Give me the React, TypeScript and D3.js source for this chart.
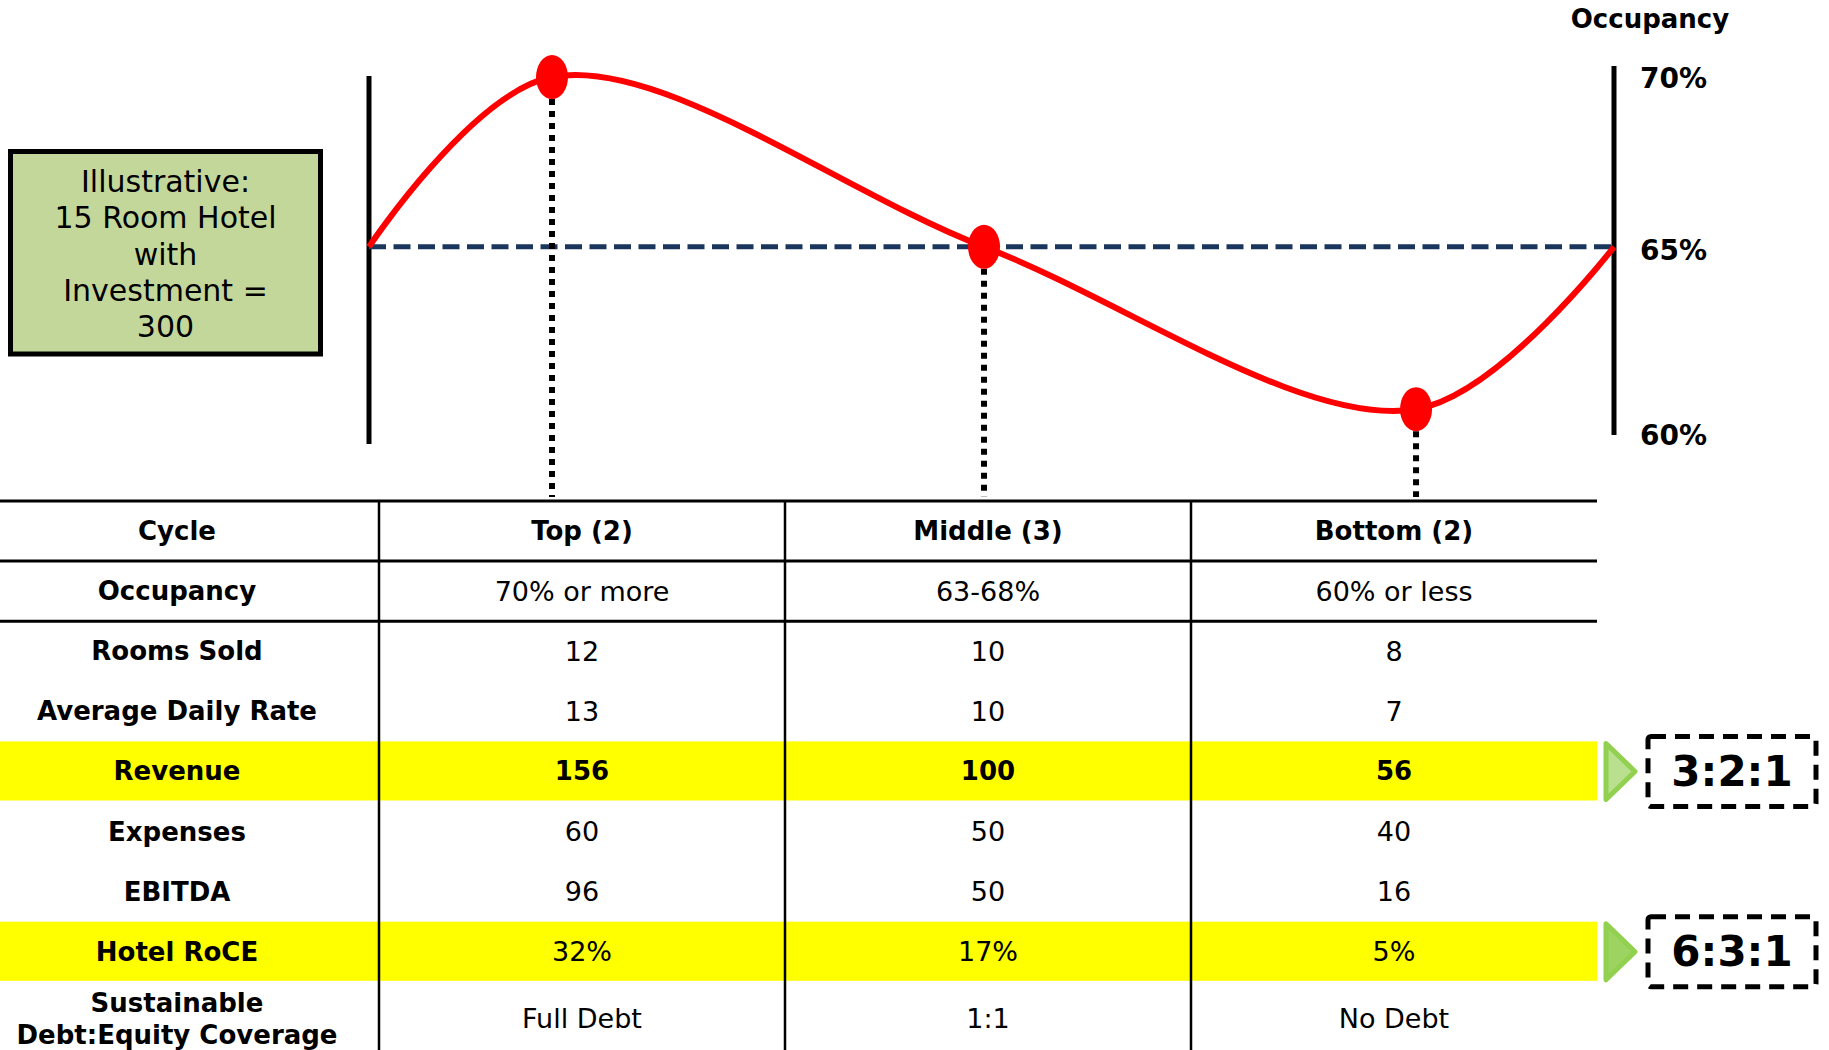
import React from "react";
import * as d3 from "d3";

const W = 1829;
const H = 1050;

// Occupancy cycle curve (position along the cycle, occupancy %)
const cyclePos = [0, 0.147, 0.494, 0.841, 1];
const occupancy = [65.1, 69.7, 65.1, 60.7, 65.1];
const markerIdx = [1, 2, 3];
const avgOccupancy = 65.1;
const occTicks = [70, 65, 60];
const occTickLabels = ["70%", "65%", "60%"];

// Table
const phases = ["Top (2)", "Middle (3)", "Bottom (2)"];
const rowLabels = [
  "Cycle",
  "Occupancy",
  "Rooms Sold",
  "Average Daily Rate",
  "Revenue",
  "Expenses",
  "EBITDA",
  "Hotel RoCE",
  "Sustainable\nDebt:Equity Coverage",
];
const topValues = ["Top (2)", "70% or more", "12", "13", "156", "60", "96", "32%", "Full Debt"];
const middleValues = ["Middle (3)", "63-68%", "10", "10", "100", "50", "50", "17%", "1:1"];
const bottomValues = ["Bottom (2)", "60% or less", "8", "7", "56", "40", "16", "5%", "No Debt"];
const highlightRows = [4, 7];
const boldValueRows = [0, 4];
const ratios = ["3:2:1", "6:3:1"];
const noteLines = ["Illustrative:", "15 Room Hotel", "with", "Investment =", "300"];

const FONT = "'DejaVu Sans', Verdana, sans-serif";

export default function App() {
  // chart scales
  const xL = 369, xR = 1614;
  const axisTop = 66, axisBottom = 435;
  const x = d3.scaleLinear().domain([0, 1]).range([xL, xR]);
  const y = d3.scaleLinear().domain([60, 70]).range([axisBottom, axisTop]);
  const pts = cyclePos.map((p, i) => ({ p, o: occupancy[i] }));
  const line = d3
    .line<{ p: number; o: number }>()
    .x((d) => x(d.p))
    .y((d) => y(d.o))
    .curve(d3.curveCatmullRom);

  // table scales
  const tableTop = 501;
  const rowStep = 60.1;
  const rowY = d3
    .scaleBand<number>()
    .domain(d3.range(rowLabels.length))
    .range([tableTop, tableTop + rowStep * rowLabels.length])
    .paddingInner(0)
    .paddingOuter(0);
  const colX = d3.scaleBand<string>().domain(phases).range([379, 1597]);
  const tableRight = 1597;
  const labelCX = 177;
  const cols = [topValues, middleValues, bottomValues];
  const rowCenter = (i: number) =>
    (rowY(i) as number) + rowY.bandwidth() / 2 + (i === rowLabels.length - 1 ? 7 : 0);

  const rx = 16, ry = 22;

  return (
    <svg
      width={W}
      height={H}
      style={{ position: "absolute", left: 0, top: 0, display: "block", background: "#fff" }}
      fontFamily={FONT}
    >
      {/* highlight bands */}
      {highlightRows.map((r) => (
        <rect key={"hl" + r} x={0} y={rowY(r)} width={tableRight} height={rowY.bandwidth() - 1} fill="#FFFF00" />
      ))}

      {/* note box */}
      <rect x={10.5} y={151.5} width={310} height={202.5} fill="#C4D79B" stroke="#000" strokeWidth={5} />
      {noteLines.map((t, i) => (
        <text key={t} x={165.5} y={192 + i * 36.3} textAnchor="middle" fontSize={30} fill="#000">
          {t}
        </text>
      ))}

      {/* left axis line */}
      <line x1={xL} x2={xL} y1={76} y2={444} stroke="#000" strokeWidth={5} />
      {/* right axis */}
      <line x1={xR} x2={xR} y1={axisTop} y2={axisBottom} stroke="#000" strokeWidth={5} />
      <text x={1650} y={28} textAnchor="middle" fontSize={26} fontWeight="bold">
        Occupancy
      </text>
      {occTicks.map((v, i) => {
        const ty = Math.max(axisTop + 12, Math.min(axisBottom, y(v)));
        return (
          <text key={v} x={1640} y={ty} dominantBaseline="central" fontSize={28} fontWeight="bold">
            {occTickLabels[i]}
          </text>
        );
      })}

      {/* average dashed line */}
      <line
        x1={xL}
        x2={xR}
        y1={y(avgOccupancy)}
        y2={y(avgOccupancy)}
        stroke="#1B365D"
        strokeWidth={5}
        strokeDasharray="17,7.5"
      />

      {/* vertical dotted drop lines */}
      {markerIdx.map((i) => (
        <line
          key={"drop" + i}
          x1={x(cyclePos[i])}
          x2={x(cyclePos[i])}
          y1={y(occupancy[i]) + ry}
          y2={497}
          stroke="#000"
          strokeWidth={6}
          strokeDasharray="6,6"
        />
      ))}

      {/* curve */}
      <path d={line(pts) || ""} fill="none" stroke="#FF0000" strokeWidth={6} />
      {markerIdx.map((i) => (
        <ellipse key={"m" + i} cx={x(cyclePos[i])} cy={y(occupancy[i])} rx={rx} ry={ry} fill="#FF0000" />
      ))}

      {/* table lines */}
      {[0, 1, 2].map((r) => (
        <line
          key={"h" + r}
          x1={0}
          x2={tableRight}
          y1={rowY(r)}
          y2={rowY(r)}
          stroke="#000"
          strokeWidth={3}
        />
      ))}
      {phases.map((p) => (
        <line key={"v" + p} x1={colX(p)} x2={colX(p)} y1={tableTop} y2={H} stroke="#000" strokeWidth={2.5} />
      ))}

      {/* row labels */}
      {rowLabels.map((lab, i) => {
        const parts = lab.split("\n");
        const cy = rowCenter(i);
        const lh = 31.6;
        return (
          <text key={"lab" + i} x={labelCX} textAnchor="middle" fontSize={26} fontWeight="bold" fill="#000">
            {parts.map((s, j) => (
              <tspan key={j} x={labelCX} y={cy + (j - (parts.length - 1) / 2) * lh} dominantBaseline="central">
                {s}
              </tspan>
            ))}
          </text>
        );
      })}

      {/* values */}
      {cols.map((vals, c) =>
        vals.map((v, i) => {
          const bold = boldValueRows.includes(i);
          return (
            <text
              key={"c" + c + "r" + i}
              x={(colX(phases[c]) as number) + colX.bandwidth() / 2}
              y={rowCenter(i)}
              textAnchor="middle"
              dominantBaseline="central"
              fontSize={bold ? 26 : 27}
              fontWeight={bold ? "bold" : "normal"}
              fill="#000"
            >
              {v}
            </text>
          );
        })
      )}

      {/* arrows and ratio boxes */}
      {highlightRows.map((r, k) => {
        const cy = (rowY(r) as number) + rowY.bandwidth() / 2;
        const ax = 1606;
        return (
          <g key={"ratio" + r}>
            <path
              d={`M${ax},${cy - 28} L${ax + 29},${cy} L${ax},${cy + 28} Z`}
              fill={k === 0 ? "#B9E08F" : "#9DD461"}
              stroke="#92D050"
              strokeWidth={5}
              strokeLinejoin="round"
            />
            <rect
              x={1648}
              y={cy - 35}
              width={168}
              height={70}
              rx={3}
              fill="none"
              stroke="#000"
              strokeWidth={5}
              strokeDasharray="15,9"
            />
            <text x={1732} y={cy} dominantBaseline="central" textAnchor="middle" fontSize={42} fontWeight="bold">
              {ratios[k]}
            </text>
          </g>
        );
      })}
    </svg>
  );
}
